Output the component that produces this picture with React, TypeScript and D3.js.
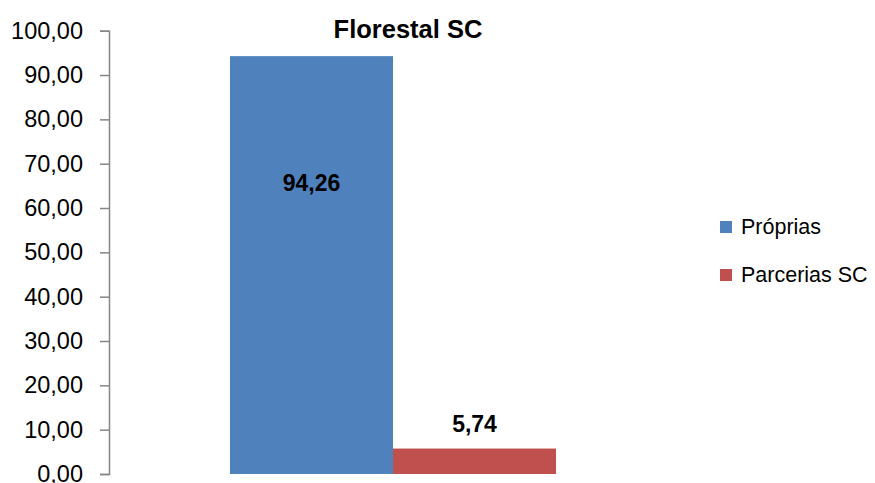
import React, { useRef, useEffect } from "react";
import * as d3 from "d3";

const categories = ["Florestal SC"];
const seriesNames = ["Próprias", "Parcerias SC"];
const seriesColors = ["#4F81BD", "#C0504D"];
const seriesValues = [94.26, 5.74];
const yTicks = [0, 10, 20, 30, 40, 50, 60, 70, 80, 90, 100];

const W = 875;
const H = 483;
const FONT = "'Liberation Sans', Arial, sans-serif";

const App = () => {
  const svgRef = useRef<SVGSVGElement>(null);

  useEffect(() => {
    const svg = d3.select(svgRef.current);
    svg.selectAll("*").remove();

    const plotLeft = 109;
    const plotRight = 677;
    const y = d3.scaleLinear().domain([0, 100]).range([474, 30.7]);

    const x0 = d3
      .scaleBand()
      .domain(categories)
      .range([plotLeft, plotRight])
      .paddingInner(0)
      .paddingOuter(0.371);

    const x1 = d3
      .scaleBand()
      .domain(seriesNames)
      .range([0, x0.bandwidth()])
      .padding(0);

    // bars
    const g = svg.append("g");
    const data = seriesNames.map((s, i) => ({ name: s, value: seriesValues[i], color: seriesColors[i] }));

    g.selectAll("rect.bar")
      .data(data)
      .join("rect")
      .attr("class", "bar")
      .attr("x", d => (x0(categories[0]) as number) + (x1(d.name) as number))
      .attr("y", d => y(d.value))
      .attr("width", x1.bandwidth())
      .attr("height", d => y(0) - y(d.value))
      .attr("fill", d => d.color);

    // data labels
    g.selectAll("text.lbl")
      .data(data)
      .join("text")
      .attr("class", "lbl")
      .attr("x", d => (x0(categories[0]) as number) + (x1(d.name) as number) + x1.bandwidth() / 2)
      .attr("y", d => (d.value > 50 ? y(d.value * 0.678) : y(d.value) - 17))
      .attr("text-anchor", "middle")
      .attr("font-family", FONT)
      .attr("font-weight", "bold")
      .attr("font-size", 23)
      .attr("fill", "#000")
      .text(d => d.value.toFixed(2).replace(".", ","));

    // y axis
    const yAxis = d3
      .axisLeft(y)
      .tickValues(yTicks)
      .tickSize(9)
      .tickPadding(17)
      .tickFormat(d => (d as number).toFixed(2).replace(".", ","));

    const ax = svg
      .append("g")
      .attr("transform", `translate(${plotLeft},0)`)
      .call(yAxis);
    ax.select(".domain").attr("stroke", "#868686").attr("stroke-width", 1.5);
    ax.selectAll(".tick line").attr("stroke", "#868686").attr("stroke-width", 1.5);
    ax.selectAll(".tick text")
      .attr("font-family", FONT)
      .attr("font-size", 23.5)
      .attr("fill", "#000");

    // title
    svg
      .append("text")
      .attr("x", 408)
      .attr("y", 38)
      .attr("text-anchor", "middle")
      .attr("font-family", FONT)
      .attr("font-weight", "bold")
      .attr("font-size", 25.5)
      .text(categories[0]);

    // legend
    const leg = svg
      .append("g")
      .selectAll("g")
      .data(data)
      .join("g")
      .attr("transform", (d, i) => `translate(720,${221 + i * 48})`);
    leg.append("rect").attr("width", 12).attr("height", 12).attr("fill", d => d.color);
    leg
      .append("text")
      .attr("x", 21)
      .attr("y", 13)
      .attr("font-family", FONT)
      .attr("font-size", 21.5)
      .attr("fill", "#000")
      .text(d => d.name);
  }, []);

  return (
    <div style={{ position: "absolute", left: 0, top: 0, width: W, height: H, background: "#fff" }}>
      <svg ref={svgRef} width={W} height={H} />
    </div>
  );
};

export default App;
